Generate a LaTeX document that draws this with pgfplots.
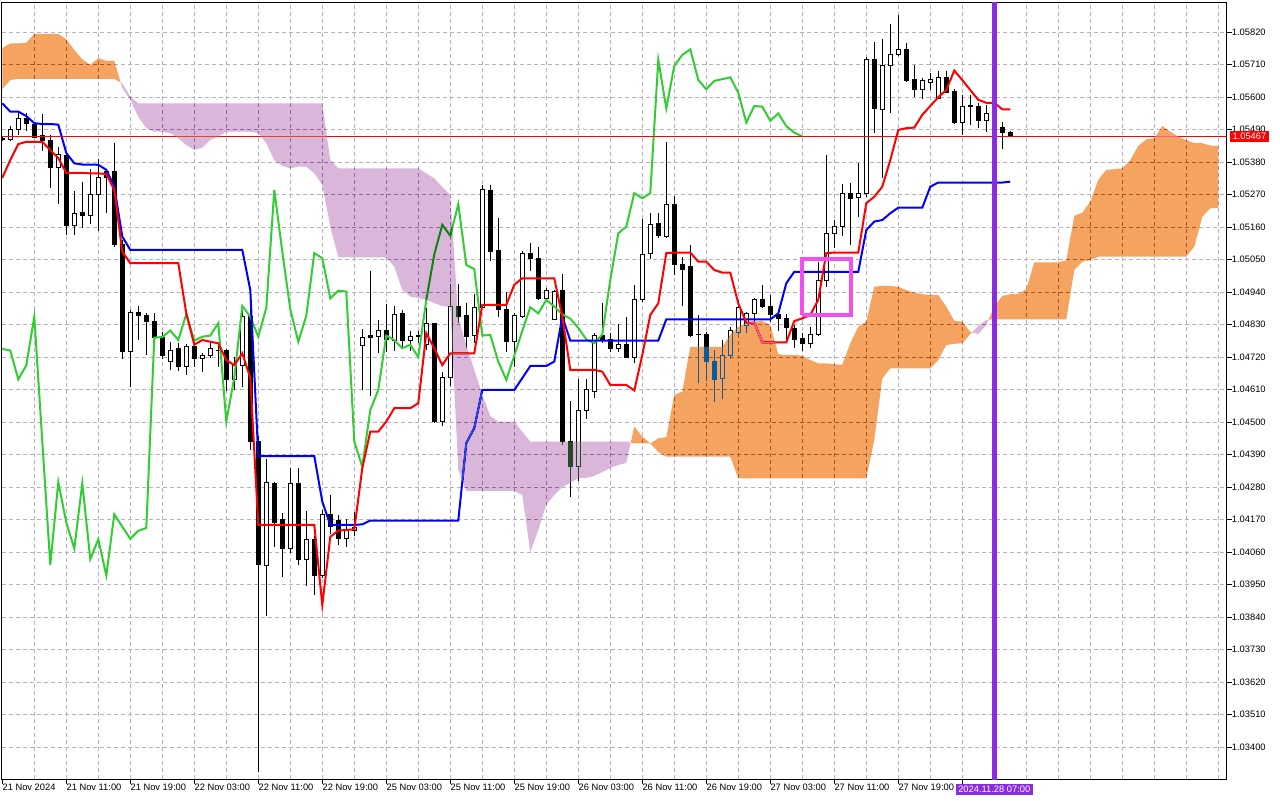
\documentclass[border=0pt]{standalone}
\usepackage{fontspec}
\setmainfont{Liberation Sans}
\usepackage{pgfplots}
\usepackage{pgfplotstable}
\pgfplotsset{compat=1.18}

\definecolor{invsandy}{RGB}{11,91,159}
\definecolor{invthist}{RGB}{37,72,37}
\definecolor{gridc}{RGB}{185,175,192}
\definecolor{limeg}{RGB}{50,205,50}
\definecolor{bviolet}{RGB}{138,43,226}
\definecolor{magbox}{RGB}{240,80,240}

\pgfplotstableread{
k o h l c
0 1.05459 1.05465 1.05452 1.05455
1 1.05458 1.05502 1.05453 1.05491
2 1.05491 1.05545 1.05472 1.05529
3 1.05529 1.05545 1.05487 1.05512
4 1.05509 1.05514 1.05461 1.05464
5 1.05469 1.05543 1.05419 1.05452
6 1.05452 1.05472 1.05294 1.05361
7 1.05361 1.05432 1.05238 1.05407
8 1.05404 1.05406 1.05134 1.05164
9 1.05164 1.05283 1.05134 1.05207
10 1.05209 1.05314 1.05158 1.05200
11 1.05200 1.05356 1.05171 1.05271
12 1.05271 1.05390 1.05148 1.05329
13 1.05348 1.05356 1.05207 1.05329
14 1.05350 1.05444 1.05094 1.05100
15 1.05100 1.05117 1.04713 1.04739
16 1.04739 1.04880 1.04619 1.04872
17 1.04872 1.04893 1.04778 1.04860
18 1.04860 1.04868 1.04727 1.04840
19 1.04840 1.04868 1.04778 1.04786
20 1.04786 1.04806 1.04713 1.04727
21 1.04704 1.04770 1.04677 1.04744
22 1.04748 1.04767 1.04674 1.04688
23 1.04688 1.04764 1.04660 1.04756
24 1.04756 1.04762 1.04688 1.04714
25 1.04716 1.04733 1.04668 1.04727
26 1.04725 1.04767 1.04716 1.04748
27 1.04744 1.04756 1.04688 1.04742
28 1.04744 1.04746 1.04605 1.04645
29 1.04645 1.04722 1.04609 1.04692
30 1.04692 1.04891 1.04619 1.04857
31 1.04857 1.04914 1.04406 1.04434
32 1.04434 1.04454 1.03317 1.04017
33 1.04015 1.04374 1.03845 1.04297
34 1.04293 1.04297 1.04079 1.04160
35 1.04169 1.04191 1.03977 1.04072
36 1.04073 1.04344 1.04058 1.04293
37 1.04293 1.04344 1.04017 1.04036
38 1.04036 1.04199 1.03946 1.04104
39 1.04104 1.04115 1.03915 1.03981
40 1.03981 1.04203 1.03973 1.04188
41 1.04188 1.04253 1.04120 1.04146
42 1.04166 1.04186 1.04085 1.04105
43 1.04105 1.04172 1.04079 1.04132
44 1.04132 1.04197 1.04113 1.04142
45 1.04759 1.04814 1.04609 1.04786
46 1.04793 1.05012 1.04590 1.04788
47 1.04789 1.04846 1.04733 1.04810
48 1.04811 1.04899 1.04739 1.04778
49 1.04776 1.04893 1.04742 1.04866
50 1.04868 1.04880 1.04750 1.04776
51 1.04776 1.04809 1.04742 1.04789
52 1.04790 1.04809 1.04767 1.04793
53 1.04762 1.04885 1.04744 1.04835
54 1.04835 1.04837 1.04496 1.04502
55 1.04502 1.04671 1.04487 1.04651
56 1.04651 1.04967 1.04621 1.04893
57 1.04893 1.04967 1.04835 1.04857
58 1.04860 1.04902 1.04750 1.04789
59 1.04793 1.04933 1.04767 1.04887
60 1.04887 1.05302 1.04885 1.05286
61 1.05283 1.05302 1.05046 1.05077
62 1.05080 1.05190 1.04857 1.04882
63 1.04882 1.04942 1.04739 1.04772
64 1.04772 1.04868 1.04688 1.04860
65 1.04857 1.05080 1.04852 1.05072
66 1.05072 1.05106 1.05010 1.05055
67 1.05055 1.05092 1.04914 1.04919
68 1.04919 1.04953 1.04914 1.04945
69 1.04848 1.04947 1.04846 1.04942
70 1.04947 1.05001 1.04423 1.04434
71 1.04434 1.04572 1.04248 1.04349
72 1.04349 1.04645 1.04302 1.04541
73 1.04541 1.04645 1.04510 1.04609
74 1.04603 1.04801 1.04583 1.04793
75 1.04793 1.04902 1.04767 1.04778
76 1.04778 1.04801 1.04739 1.04750
77 1.04750 1.04832 1.04739 1.04762
78 1.04762 1.04857 1.04716 1.04720
79 1.04720 1.04964 1.04699 1.04914
80 1.04914 1.05187 1.04905 1.05068
81 1.05072 1.05207 1.05051 1.05168
82 1.05171 1.05207 1.05122 1.05131
83 1.05128 1.05447 1.05123 1.05238
84 1.05238 1.05267 1.04998 1.05032
85 1.05034 1.05058 1.04893 1.05018
86 1.05026 1.05100 1.04789 1.04793
87 1.04797 1.04863 1.04632 1.04795
88 1.04798 1.04806 1.04640 1.04705
89 1.04705 1.04744 1.04569 1.04643
90 1.04649 1.04778 1.04578 1.04725
91 1.04725 1.04823 1.04714 1.04809
92 1.04804 1.04914 1.04795 1.04889
93 1.04826 1.04874 1.04803 1.04868
94 1.04868 1.04919 1.04835 1.04914
95 1.04916 1.04964 1.04885 1.04891
96 1.04893 1.04930 1.04840 1.04865
97 1.04865 1.04880 1.04810 1.04850
98 1.04851 1.04866 1.04772 1.04819
99 1.04818 1.04829 1.04750 1.04780
100 1.04784 1.04801 1.04742 1.04767
101 1.04767 1.04823 1.04750 1.04797
102 1.04797 1.05043 1.04790 1.04981
103 1.04981 1.05404 1.04959 1.05139
104 1.05139 1.05184 1.05089 1.05162
105 1.05162 1.05306 1.05131 1.05275
106 1.05275 1.05309 1.05100 1.05258
107 1.05261 1.05376 1.05195 1.05275
108 1.05275 1.05737 1.05263 1.05726
109 1.05726 1.05788 1.05478 1.05562
110 1.05557 1.05796 1.05325 1.05706
111 1.05706 1.05848 1.05548 1.05743
112 1.05743 1.05878 1.05739 1.05762
113 1.05762 1.05785 1.05652 1.05658
114 1.05661 1.05709 1.05602 1.05627
115 1.05627 1.05664 1.05593 1.05655
116 1.05650 1.05683 1.05624 1.05661
117 1.05596 1.05689 1.05593 1.05667
118 1.05667 1.05689 1.05614 1.05615
119 1.05619 1.05627 1.05508 1.05514
120 1.05514 1.05607 1.05472 1.05570
121 1.05572 1.05607 1.05506 1.05568
122 1.05568 1.05579 1.05495 1.05520
123 1.05520 1.05574 1.05483 1.05545
124 1.05545 1.05563 1.05489 1.05502
125 1.05498 1.05515 1.05425 1.05480
126 1.05481 1.05485 1.05466 1.05467
}\candles

% Tenkan-sen (t) and Kijun-sen (kj)
\pgfplotstableread{
k t kj
0 1.05327 1.05579
1 1.05387 1.05551
2 1.05441 1.05551
3 1.05449 1.05536
4 1.05449 1.05512
5 1.05449 1.05509
6 1.05421 1.05509
7 1.05394 1.05507
8 1.05344 1.05411
9 1.05344 1.05376
10 1.05344 1.05372
11 1.05342 1.05372
12 1.05342 1.05371
13 1.05340 1.05354
14 1.05286 1.05297
15 1.05077 1.05128
16 1.05038 1.05083
17 1.05038 1.05083
18 1.05038 1.05083
19 1.05038 1.05083
20 1.05038 1.05083
21 1.05038 1.05083
22 1.05038 1.05083
23 1.04868 1.05083
24 1.04762 1.05083
25 1.04778 1.05083
26 1.04772 1.05083
27 1.04767 1.05083
28 1.04710 1.05083
29 1.04693 1.05083
30 1.04733 1.05083
31 1.04650 1.04947
32 1.04152 1.04385
33 1.04152 1.04385
34 1.04152 1.04385
35 1.04152 1.04385
36 1.04152 1.04385
37 1.04152 1.04385
38 1.04152 1.04385
39 1.04152 1.04385
40 1.03881 1.04231
41 1.04112 1.04152
42 1.04133 1.04152
43 1.04135 1.04152
44 1.04137 1.04152
45 1.04344 1.04154
46 1.04468 1.04167
47 1.04468 1.04167
48 1.04502 1.04167
49 1.04547 1.04167
50 1.04547 1.04167
51 1.04547 1.04167
52 1.04564 1.04167
53 1.04801 1.04167
54 1.04750 1.04167
55 1.04693 1.04167
56 1.04733 1.04167
57 1.04733 1.04167
58 1.04733 1.04429
59 1.04733 1.04480
60 1.04897 1.04609
61 1.04897 1.04609
62 1.04897 1.04609
63 1.04897 1.04609
64 1.04965 1.04609
65 1.04987 1.04649
66 1.04987 1.04690
67 1.04987 1.04690
68 1.04987 1.04690
69 1.04987 1.04705
70 1.04857 1.04857
71 1.04677 1.04776
72 1.04677 1.04776
73 1.04677 1.04776
74 1.04677 1.04776
75 1.04671 1.04776
76 1.04626 1.04776
77 1.04626 1.04776
78 1.04626 1.04776
79 1.04607 1.04776
80 1.04727 1.04776
81 1.04863 1.04776
82 1.04902 1.04776
83 1.05072 1.04848
84 1.05074 1.04848
85 1.05074 1.04848
86 1.05074 1.04848
87 1.05043 1.04848
88 1.05043 1.04848
89 1.05015 1.04848
90 1.05006 1.04848
91 1.05006 1.04848
92 1.04902 1.04848
93 1.04837 1.04848
94 1.04837 1.04848
95 1.04770 1.04848
96 1.04770 1.04848
97 1.04770 1.04868
98 1.04770 1.04970
99 1.04842 1.05009
100 1.04851 1.05009
101 1.04863 1.05009
102 1.04914 1.05009
103 1.05072 1.05009
104 1.05074 1.05009
105 1.05074 1.05009
106 1.05074 1.05009
107 1.05074 1.05009
108 1.05241 1.05150
109 1.05263 1.05179
110 1.05297 1.05184
111 1.05387 1.05207
112 1.05489 1.05226
113 1.05495 1.05226
114 1.05497 1.05226
115 1.05540 1.05226
116 1.05570 1.05297
117 1.05600 1.05311
118 1.05624 1.05311
119 1.05690 1.05311
120 1.05658 1.05311
121 1.05624 1.05311
122 1.05591 1.05311
123 1.05581 1.05311
124 1.05581 1.05311
125 1.05559 1.05311
126 1.05559 1.05314
}\lines

% Chikou span
\pgfplotstableread{
k ch
0 1.04748
1 1.04742
2 1.04645
3 1.04692
4 1.04857
5 1.04434
6 1.04017
7 1.04297
8 1.04160
9 1.04072
10 1.04293
11 1.04036
12 1.04104
13 1.03981
14 1.04188
15 1.04146
16 1.04105
17 1.04132
18 1.04142
19 1.04786
20 1.04788
21 1.04810
22 1.04778
23 1.04866
24 1.04776
25 1.04789
26 1.04793
27 1.04835
28 1.04502
29 1.04651
30 1.04893
31 1.04857
32 1.04789
33 1.04887
34 1.05286
35 1.05077
36 1.04882
37 1.04772
38 1.04860
39 1.05072
40 1.05055
41 1.04919
42 1.04945
43 1.04942
44 1.04434
45 1.04349
46 1.04541
47 1.04609
48 1.04793
49 1.04778
50 1.04750
51 1.04762
52 1.04720
53 1.04914
54 1.05068
55 1.05168
56 1.05131
57 1.05238
58 1.05032
59 1.05018
60 1.04793
61 1.04795
62 1.04705
63 1.04643
64 1.04725
65 1.04809
66 1.04889
67 1.04868
68 1.04914
69 1.04891
70 1.04865
71 1.04850
72 1.04819
73 1.04780
74 1.04767
75 1.04797
76 1.04981
77 1.05139
78 1.05162
79 1.05275
80 1.05258
81 1.05275
82 1.05726
83 1.05562
84 1.05706
85 1.05743
86 1.05762
87 1.05658
88 1.05627
89 1.05655
90 1.05661
91 1.05667
92 1.05615
93 1.05514
94 1.05570
95 1.05568
96 1.05520
97 1.05545
98 1.05502
99 1.05480
100 1.05467
}\chikou

% Senkou span A (a) and B (b)
\pgfplotstableread{
k a b
0 1.05766 1.05627
1 1.05782 1.05658
2 1.05782 1.05662
3 1.05784 1.05662
4 1.05814 1.05662
5 1.05814 1.05662
6 1.05814 1.05662
7 1.05814 1.05662
8 1.05796 1.05662
9 1.05760 1.05662
10 1.05728 1.05662
11 1.05709 1.05662
12 1.05732 1.05662
13 1.05723 1.05662
14 1.05723 1.05662
15 1.05631 1.05647
16 1.05591 1.05602
17 1.05534 1.05579
18 1.05495 1.05579
19 1.05483 1.05579
20 1.05483 1.05579
21 1.05478 1.05579
22 1.05461 1.05579
23 1.05438 1.05579
24 1.05421 1.05579
25 1.05429 1.05579
26 1.05455 1.05579
27 1.05466 1.05579
28 1.05483 1.05579
29 1.05483 1.05579
30 1.05483 1.05579
31 1.05483 1.05579
32 1.05478 1.05579
33 1.05444 1.05579
34 1.05387 1.05579
35 1.05367 1.05579
36 1.05359 1.05579
37 1.05365 1.05579
38 1.05365 1.05579
39 1.05342 1.05579
40 1.05303 1.05579
41 1.05162 1.05387
42 1.05058 1.05359
43 1.05058 1.05359
44 1.05058 1.05359
45 1.05058 1.05359
46 1.05058 1.05359
47 1.05058 1.05359
48 1.05058 1.05359
49 1.05026 1.05359
50 1.04947 1.05359
51 1.04925 1.05359
52 1.04920 1.05359
53 1.04914 1.05342
54 1.04903 1.05325
55 1.04893 1.05296
56 1.04890 1.05269
57 1.04338 1.04853
58 1.04267 1.04761
59 1.04267 1.04677
60 1.04267 1.04592
61 1.04267 1.04521
62 1.04267 1.04502
63 1.04267 1.04502
64 1.04267 1.04502
65 1.04253 1.04467
66 1.04060 1.04434
67 1.04135 1.04434
68 1.04220 1.04434
69 1.04253 1.04434
70 1.04280 1.04434
71 1.04294 1.04434
72 1.04311 1.04434
73 1.04311 1.04434
74 1.04318 1.04434
75 1.04331 1.04434
76 1.04345 1.04434
77 1.04355 1.04434
78 1.04362 1.04434
79 1.04485 1.04428
80 1.04451 1.04428
81 1.04428 1.04428
82 1.04445 1.04399
83 1.04449 1.04383
84 1.04592 1.04383
85 1.04603 1.04383
86 1.04755 1.04383
87 1.04755 1.04383
88 1.04755 1.04383
89 1.04755 1.04383
90 1.04755 1.04383
91 1.04795 1.04383
92 1.04823 1.04310
93 1.04835 1.04310
94 1.04840 1.04310
95 1.04842 1.04310
96 1.04829 1.04310
97 1.04730 1.04310
98 1.04727 1.04310
99 1.04727 1.04310
100 1.04725 1.04310
101 1.04710 1.04310
102 1.04699 1.04310
103 1.04699 1.04310
104 1.04696 1.04310
105 1.04694 1.04310
106 1.04767 1.04310
107 1.04823 1.04310
108 1.04840 1.04310
109 1.04958 1.04440
110 1.04961 1.04648
111 1.04961 1.04682
112 1.04958 1.04682
113 1.04947 1.04682
114 1.04938 1.04682
115 1.04933 1.04682
116 1.04930 1.04682
117 1.04930 1.04710
118 1.04891 1.04761
119 1.04843 1.04765
120 1.04840 1.04767
121 1.04805 1.04798
122 1.04798 1.04825
123 1.04829 1.04846
124 1.04890 1.04848
125 1.04927 1.04848
126 1.04933 1.04848
127 1.04934 1.04848
128 1.04950 1.04848
129 1.05041 1.04848
130 1.05041 1.04848
131 1.05041 1.04848
132 1.05041 1.04848
133 1.05048 1.04848
134 1.05198 1.05015
135 1.05209 1.05043
136 1.05246 1.05048
137 1.05320 1.05060
138 1.05354 1.05060
139 1.05356 1.05060
140 1.05359 1.05060
141 1.05387 1.05060
142 1.05435 1.05060
143 1.05457 1.05060
144 1.05461 1.05060
145 1.05502 1.05060
146 1.05483 1.05060
147 1.05466 1.05060
148 1.05455 1.05060
149 1.05444 1.05094
150 1.05444 1.05195
151 1.05436 1.05224
152 1.05435 1.05224
}\cloud

\newcommand\lblfont{\fontsize{7}{8}\selectfont}

% one cloud region: rows #1..#2 of \cloud, span A forward then span B back
\newcommand\cloudregion[5]{%
  \def\fwd{}\def\bwd{}%
  \pgfplotsforeachungrouped \j in {#1,...,#2}{%
    \pgfplotstablegetelem{\j}{k}\of\cloud \let\CK\pgfplotsretval
    \pgfplotstablegetelem{\j}{a}\of\cloud \let\CA\pgfplotsretval
    \pgfplotstablegetelem{\j}{b}\of\cloud \let\CB\pgfplotsretval
    \edef\fwd{\fwd (\CK,\CA)}%
    \edef\bwd{(\CK,\CB) \bwd}%
  }%
  \edef\doit{\noexpand\addplot[fill=#5, draw=none, mark=none, blend mode=difference] coordinates {#3 \fwd #4 \bwd};}%
  \doit
}

\begin{document}
\begin{tikzpicture}[x=1pt,y=1pt]
\path[use as bounding box] (0,0) rectangle (960,600);
\fill[white] (0,0) rectangle (960,600);
\begin{axis}[
  at={(1.5pt,15.75pt)}, anchor=south west,
  scale only axis, width=918.5pt, height=582.5pt,
  xmin=-0.0375, xmax=153.05, ymin=1.03292, ymax=1.05921,
  axis background/.style={fill=white},
  axis line style={black, line width=0.75pt},
  tick align=outside, major tick length=3.75pt, minor tick length=0pt,
  tick style={black, line width=0.75pt},
  xtick pos=lower, ytick pos=right,
  xtick={0,8,...,120},
  xticklabels={21 Nov 2024,21 Nov 11:00,21 Nov 19:00,22 Nov 03:00,22 Nov 11:00,22 Nov 19:00,25 Nov 03:00,25 Nov 11:00,25 Nov 19:00,26 Nov 03:00,26 Nov 11:00,26 Nov 19:00,27 Nov 03:00,27 Nov 11:00,27 Nov 19:00,{}},
  minor xtick={4,8,...,152},
  xminorgrids, ymajorgrids, xmajorgrids=false,
  minor grid style={gridc, line width=0.75pt, dash pattern=on 3pt off 2.25pt},
  major grid style={gridc, line width=0.75pt, dash pattern=on 3pt off 2.25pt},
  ytick={1.0340,1.0351,1.0362,1.0373,1.0384,1.0395,1.0406,1.0417,1.0428,1.0439,1.0450,1.0461,1.0472,1.0483,1.0494,1.0505,1.0516,1.0527,1.0538,1.0549,1.0560,1.0571,1.0582},
  yticklabels={1.03400,1.03510,1.03620,1.03730,1.03840,1.03950,1.04060,1.04170,1.04280,1.04390,1.04500,1.04610,1.04720,1.04830,1.04940,1.05050,1.05160,1.05270,1.05380,1.05490,1.05600,1.05710,1.05820},
  xticklabel style={font=\lblfont, anchor=north west, inner sep=0pt},
  yticklabel style={font=\lblfont, anchor=west, inner sep=0pt},
  wick/.style={black, line width=0.75pt, mark=none},
  body/.style={draw=black, line width=0.75pt, mark=none},
]
% candles
\pgfplotsforeachungrouped \i in {0,...,126}{%
  \pgfplotstablegetelem{\i}{k}\of\candles \let\K\pgfplotsretval
  \pgfplotstablegetelem{\i}{o}\of\candles \let\O\pgfplotsretval
  \pgfplotstablegetelem{\i}{h}\of\candles \let\H\pgfplotsretval
  \pgfplotstablegetelem{\i}{l}\of\candles \let\L\pgfplotsretval
  \pgfplotstablegetelem{\i}{c}\of\candles \let\C\pgfplotsretval
  \pgfmathsetmacro\xa{\K-0.27}%
  \pgfmathsetmacro\xb{\K+0.27}%
  \pgfmathtruncatemacro\up{\C>\O ? 1 : 0}%
  \ifnum\up=1 \def\bodyfill{white}\else\def\bodyfill{black}\fi
  \edef\doit{%
    \noexpand\addplot[wick] coordinates {(\K,\L) (\K,\H)};
    \noexpand\addplot[body, fill=\bodyfill] coordinates {(\xa,\O) (\xb,\O) (\xb,\C) (\xa,\C) (\xa,\O)};
  }\doit
}
% ichimoku lines
\addplot[limeg, line width=1.5pt, mark=none] table[x=k, y=ch] {\chikou};
\addplot[blue, line width=1.5pt, mark=none] table[x=k, y=kj] {\lines};
\addplot[red, line width=1.5pt, mark=none] table[x=k, y=t] {\lines};
% current price line
\addplot[red, line width=0.75pt, mark=none] coordinates {(-1,1.05467) (154,1.05467)};
% cloud (senkou A above B: sandy brown, below: thistle), drawn as difference
\cloudregion{0}{14}{}{(14.79,1.05650)}{invsandy}
\cloudregion{15}{78}{(14.79,1.05650)}{(78.56,1.04431)}{invthist}
\cloudregion{79}{121}{(78.56,1.04431)}{(121.21,1.04804)}{invsandy}
\cloudregion{122}{123}{(121.21,1.04804)}{(123.29,1.04847)}{invthist}
\cloudregion{124}{152}{(123.29,1.04847)}{}{invsandy}
% annotations
\addplot[magbox, line width=3pt, mark=none] coordinates {(99.96,1.04864) (106.05,1.04864) (106.05,1.05053) (99.96,1.05053) (99.96,1.04864)};
\addplot[bviolet, line width=3.75pt, mark=none] coordinates {(124,1.0320) (124,1.0600)};
\end{axis}
\node[fill=red, text=white, font=\lblfont, inner xsep=2.2pt, inner ysep=0pt, minimum height=8pt, anchor=west] at (922,497.5) {1.05467};
\node[fill=bviolet, text=white, font=\lblfont, inner xsep=1.5pt, inner ysep=0pt, minimum height=8pt, minimum width=57.5pt] at (745.7,8) {2024.11.28 07:00};
\end{tikzpicture}
\end{document}
